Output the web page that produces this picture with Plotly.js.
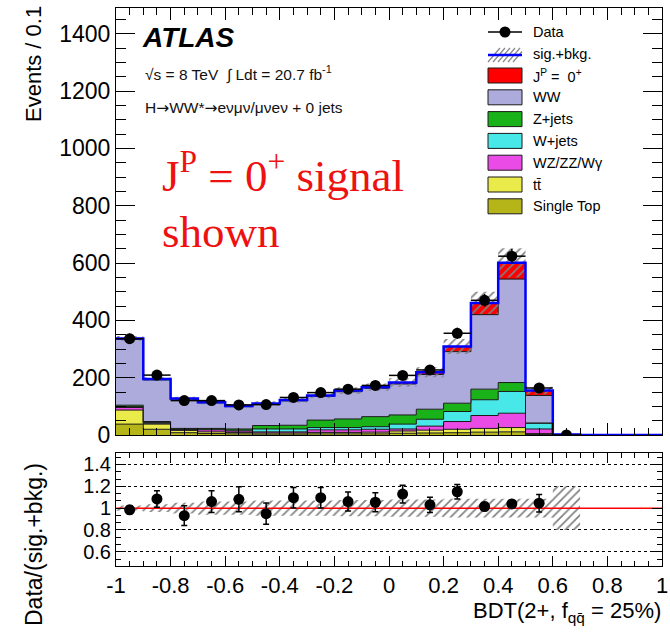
<!DOCTYPE html>
<html><head><meta charset="utf-8">
<script src="https://cdn.plot.ly/plotly-3.0.1.min.js"></script>
<style>html,body{margin:0;padding:0;background:#fff}</style>
</head><body><div id="chart" style="width:670px;height:641px"></div>
<script>
// ---------------- data ----------------
const binEdges   = [-1.0,-0.9,-0.8,-0.7,-0.6,-0.5,-0.4,-0.3,-0.2,-0.1,0.0,0.1,0.2,0.3,0.4,0.5,0.6,0.7,0.8,0.9,1.0];
const binCenters = [-0.95,-0.85,-0.75,-0.65,-0.55,-0.45,-0.35,-0.25,-0.15,-0.05,0.05,0.15,0.25,0.35,0.45,0.55,0.65,0.75,0.85,0.95];

const dataEvents = [336,209,120,120,105,106,131,148,160,173,208,227,355,470,624,164,0,null,null,null];
const dataErr    = [18,14,11,11,10,10,11,12,13,13,14,15,19,22,25,13,0,0,0,0];

const singleTop = [38,20,8,5,4,3,3,4,4,4,6,7,8,10,11,2,0,0,0,0];
const ttbar     = [49,18,8,6,5,4,4,5,5,6,8,10,12,13,15,3,0,0,0,0];
const wzzzwg    = [9,3,3,7,5,4,4,9,9,10,7,14,27,45,50,16,0.2,0,0,0];
const wjets     = [3,3,2,2,3,10,10,8,8,9,17,24,35,55,76,20,0.2,0,0,0];
const zjets     = [5,3,2,3,4,12,13,26,30,35,32,35,29,37,31,1,0,0,0,0];
const ww        = [230,145,102,89,78,75,85,83,95,99,108,121,180,260,361,96,1.3,0,0,0];
const signal0p  = [3,3,2,2,2,2,3,3,4,4,5,8,18,41,57,17,0.3,0,0,0];

const uncRel    = [0.025,0.035,0.05,0.06,0.06,0.07,0.07,0.07,0.075,0.075,0.08,0.08,0.085,0.085,0.085,0.085,0.2,0,0,0];

const ratioCenters = [-0.95,-0.85,-0.75,-0.65,-0.55,-0.45,-0.35,-0.25,-0.15,-0.05,0.05,0.15,0.25,0.35,0.45,0.55];
const ratioVals = [0.985,1.084,0.931,1.06,1.081,0.949,1.096,1.096,1.06,1.054,1.129,1.03,1.15,1.015,1.039,1.045];
const ratioErr  = [0.036,0.075,0.09,0.10,0.114,0.097,0.094,0.094,0.087,0.087,0.081,0.07,0.067,0.036,0.03,0.08];

const xTickVals = [-1,-0.8,-0.6,-0.4,-0.2,0,0.2,0.4,0.6,0.8,1];
const xTickText = ['-1','-0.8','-0.6','-0.4','-0.2','0','0.2','0.4','0.6','0.8','1'];
const yTickVals = [0,200,400,600,800,1000,1200,1400];
const rTickVals = [0.6,0.8,1,1.2,1.4];
const rTickText = ['0.6','0.8','1','1.2','1.4'];

const legendNames  = ['J<sup>P</sup> =  0<sup>+</sup>','WW','Z+jets','W+jets','WZ/ZZ/W\u03b3','tt\u0304','Single Top'];
const legendColors = ['#ff0000','#acabdc','#19b219','#48e8e8','#ea4ae6','#eaea4a','#b5b51a'];

// ---------------- geometry helpers ----------------
const W=670,H=641,L=116,R=8,T=8,B=75;
const pw=W-L-R, ph=H-T-B;
function px(x){return (x-L)/pw;}
function py(y){return (H-B-y)/ph;}

// ---------------- traces ----------------
const comps = [
  {vals:singleTop, color:'#b5b51a'},
  {vals:ttbar,     color:'#eaea4a'},
  {vals:wzzzwg,    color:'#ea4ae6'},
  {vals:wjets,     color:'#48e8e8'},
  {vals:zjets,     color:'#19b219'},
  {vals:ww,        color:'#acabdc'},
  {vals:signal0p,  color:'#ff0000'}
];
const traces=[];
let cum = new Array(binCenters.length).fill(0);
comps.forEach((c,i)=>{
  cum = cum.map((v,j)=>v+c.vals[j]);
  const y = cum.slice(); y.push(y[y.length-1]);
  traces.push({x:binEdges, y:y, type:'scatter', mode:'lines',
    line:{shape:'hv', color:'#1a1a1a', width:1},
    fill: i===0?'tozeroy':'tonexty', fillcolor:c.color,
    xaxis:'x', yaxis:'y', hoverinfo:'skip', showlegend:false});
});
const total = cum.slice();
const step = a => { const y=a.slice(); y.push(y[y.length-1]); return y; };
const lo = total.map((v,j)=>v*(1-uncRel[j]));
const hi = total.map((v,j)=>v*(1+uncRel[j]));
traces.push({x:binEdges, y:step(lo), type:'scatter', mode:'lines', line:{shape:'hv', width:0},
  xaxis:'x', yaxis:'y', hoverinfo:'skip', showlegend:false});
traces.push({x:binEdges, y:step(hi), type:'scatter', mode:'lines', line:{shape:'hv', width:0},
  fill:'tonexty', fillcolor:'rgba(0,0,0,0)',
  fillpattern:{shape:'/', fgcolor:'#808080', size:6, solidity:0.28},
  xaxis:'x', yaxis:'y', hoverinfo:'skip', showlegend:false});
traces.push({x:binEdges, y:step(total), type:'scatter', mode:'lines',
  line:{shape:'hv', color:'#0000ff', width:2.5},
  xaxis:'x', yaxis:'y', hoverinfo:'skip', showlegend:false});
// data
const dX=[], dY=[], dE=[];
binCenters.forEach((c,j)=>{ if(dataEvents[j]!==null){dX.push(c); dY.push(dataEvents[j]); dE.push(dataErr[j]);} });
traces.push({x:dX, y:dY, type:'scatter', mode:'markers',
  marker:{color:'black', size:11},
  error_x:{type:'constant', value:0.05, width:0, thickness:1.5, color:'black'},
  error_y:{type:'data', array:dE, width:0, thickness:1.5, color:'black'},
  xaxis:'x', yaxis:'y', hoverinfo:'skip', showlegend:false});

// ratio band (bins with prediction)
const nPred = total.filter(v=>v>0).length;
const rLo = uncRel.slice(0,nPred).map(u=>1-u);
const rHi = uncRel.slice(0,nPred).map(u=>1+u);
const rEdges = binEdges.slice(0,nPred+1);
traces.push({x:rEdges, y:step(rLo), type:'scatter', mode:'lines', line:{shape:'hv', width:0},
  xaxis:'x2', yaxis:'y2', hoverinfo:'skip', showlegend:false});
traces.push({x:rEdges, y:step(rHi), type:'scatter', mode:'lines', line:{shape:'hv', width:0},
  fill:'tonexty', fillcolor:'rgba(0,0,0,0)',
  fillpattern:{shape:'/', fgcolor:'#808080', size:6, solidity:0.28},
  xaxis:'x2', yaxis:'y2', hoverinfo:'skip', showlegend:false});
traces.push({x:[-1,1], y:[1,1], type:'scatter', mode:'lines', line:{color:'#ff0000', width:1.5},
  xaxis:'x2', yaxis:'y2', hoverinfo:'skip', showlegend:false});
traces.push({x:ratioCenters, y:ratioVals, type:'scatter', mode:'markers',
  marker:{color:'black', size:11},
  error_y:{type:'data', array:ratioErr, width:3, thickness:1.5, color:'black'},
  xaxis:'x2', yaxis:'y2', hoverinfo:'skip', showlegend:false});

// ---------------- annotations & legend ----------------
const FONT='Liberation Sans, Arial, Helvetica, sans-serif';
const ARW='<span style="font-family:DejaVu Sans">\u2192</span>';
const ann=[];
function txt(text,x,y,opt){ann.push(Object.assign({text:text, xref:'paper', yref:'paper', x:px(x), y:py(y),
  xanchor:'left', yanchor:'middle', showarrow:false, font:{family:FONT, size:15, color:'black'}},opt||{}));}
txt('<b><i>ATLAS</i></b>',140,37,{font:{family:FONT,size:28,color:'black'}});
txt('\u221As = 8 TeV  \u222B Ldt = 20.7 fb<sup>-1</sup>',143,73,{font:{family:FONT,size:15.5,color:'#111'}});
txt('H'+ARW+'WW*'+ARW+'e\u03BD\u03BC\u03BD/\u03BC\u03BDe\u03BD + 0 jets',143,108,{font:{family:FONT,size:15.5,color:'#111'}});
txt('J<sup>P</sup> = 0<sup>+</sup> signal',160,173,{font:{family:'Liberation Serif, Times New Roman, serif',size:45,color:'#ee1111'}});
txt('shown',160,232,{font:{family:'Liberation Serif, Times New Roman, serif',size:45,color:'#ee1111'}});
txt('Events / 0.1',34,4,{xanchor:'center', yanchor:'top', textangle:-90, font:{family:FONT,size:22,color:'black'}});
txt('Data/(sig.+bkg.)',34,545,{xanchor:'center', yanchor:'middle', textangle:-90, font:{family:FONT,size:23,color:'black'}});
txt('BDT(2+, f<sub>qq\u0304</sub> = 25%)',663,612,{xanchor:'right', font:{family:FONT,size:22,color:'black'}});

const shapes=[];
const LX0=488, LX1=522, LTX=531, LFS=14.5;
// Data entry
shapes.push({type:'line', xref:'paper', yref:'paper', x0:px(LX0), x1:px(LX1), y0:py(32), y1:py(32), line:{color:'black', width:1.5}});
shapes.push({type:'circle', xref:'paper', yref:'paper', xsizemode:'pixel', ysizemode:'pixel',
  xanchor:px((LX0+LX1)/2), yanchor:py(32), x0:-5.5, x1:5.5, y0:-5.5, y1:5.5, fillcolor:'black', line:{width:0}});
txt('Data',LTX,32,{font:{family:FONT,size:LFS,color:'black'}});
// sig.+bkg. entry
for(let k=0;k<6;k++){
  const xa=LX0+k*5, xb=Math.min(xa+12,LX1);
  const yb = 62 - (xb-xa)*14/12;
  shapes.push({type:'line', xref:'paper', yref:'paper', x0:px(xa), x1:px(xb), y0:py(62), y1:py(yb), line:{color:'#8a8a8a', width:1.3}});
}
shapes.push({type:'line', xref:'paper', yref:'paper', x0:px(LX0), x1:px(LX1), y0:py(55), y1:py(55), line:{color:'#0000ff', width:2.5}});
txt('sig.+bkg.',LTX,54,{font:{family:FONT,size:LFS,color:'black'}});
legendNames.forEach((n,i)=>{
  const yc = 75.5 + i*21.8;
  shapes.push({type:'rect', xref:'paper', yref:'paper', x0:px(LX0), x1:px(LX1), y0:py(yc-7.5), y1:py(yc+7.5),
    fillcolor:legendColors[i], line:{color:'#1a1a1a', width:1}});
  txt(n,LTX,yc,{font:{family:FONT,size:LFS,color:'black'}});
});

// ---------------- layout ----------------
const axCommon = {showline:true, linecolor:'black', linewidth:1, mirror:'allticks', ticks:'inside',
  tickcolor:'black', tickwidth:1, zeroline:false, showgrid:false};
const layout = {
  width:W, height:H, margin:{l:L, r:R, t:T, b:B}, paper_bgcolor:'white', plot_bgcolor:'white',
  font:{family:FONT, color:'black'}, showlegend:false,
  xaxis:Object.assign({}, axCommon, {domain:[0,1], anchor:'y', range:[-1,1], tickmode:'array', tickvals:xTickVals,
    showticklabels:false, ticklen:12, minor:{tickmode:'linear', tick0:-1, dtick:0.05, ticks:'inside', ticklen:7, tickcolor:'black'}}),
  yaxis:Object.assign({}, axCommon, {domain:[py(435),1], anchor:'x', range:[0,1490], tickmode:'array', tickvals:yTickVals,
    ticklen:19, tickfont:{size:23}, minor:{tickmode:'linear', tick0:0, dtick:50, ticks:'inside', ticklen:10, tickcolor:'black'}}),
  xaxis2:Object.assign({}, axCommon, {domain:[0,1], anchor:'y2', range:[-1,1], tickmode:'array', tickvals:xTickVals, ticktext:xTickText,
    ticklen:10, tickfont:{size:22}, minor:{tickmode:'linear', tick0:-1, dtick:0.05, ticks:'inside', ticklen:5, tickcolor:'black'}}),
  yaxis2:Object.assign({}, axCommon, {domain:[0,py(453)], anchor:'x2', range:[0.47,1.505], tickmode:'array', tickvals:rTickVals, ticktext:rTickText,
    ticklen:10, tickfont:{size:20}, showgrid:true, gridcolor:'black', griddash:'dot', gridwidth:1,
    minor:{tickmode:'linear', tick0:0.6, dtick:0.2/3, ticks:'inside', ticklen:5, tickcolor:'black'}}),
  annotations:ann, shapes:shapes
};
Plotly.newPlot('chart', traces, layout, {staticPlot:true, displayModeBar:false});
</script></body></html>
